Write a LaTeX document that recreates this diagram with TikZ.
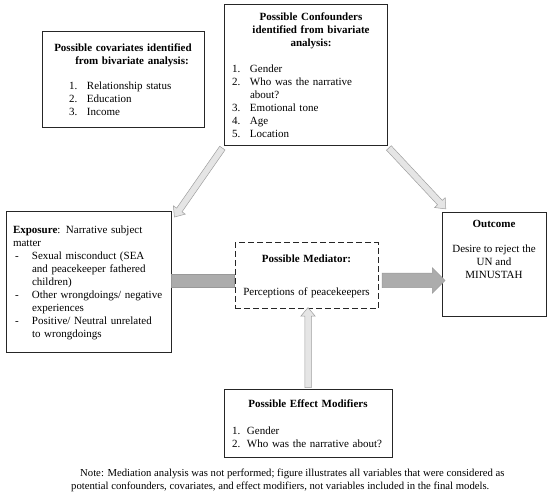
\documentclass[tikz,border=0pt]{standalone}
\usepackage{fontspec}
\setmainfont{Liberation Serif}
\usetikzlibrary{positioning,calc,shapes.arrows}

\newcommand{\itm}[2][18pt]{\makebox[#1][l]{#2}}
\newcommand{\ctr}[1]{\makebox[\linewidth]{#1}}
\newcommand{\blockarrow}[4]{%
  \path let \p1=($(#4)-(#3)$), \n1={atan2(\y1,\x1)}, \n2={veclen(\x1,\y1)} in
    node[#1, rotate=\n1, minimum height=\n2] (#2) at ($(#3)!0.5!(#4)$) {};}

\begin{document}
\begin{tikzpicture}[
  x=1pt, y=-1pt,
  every node/.style = {font=\fontsize{11}{13}\selectfont},
  box/.style = {draw=black!85, line width=1pt, inner ysep=0pt, inner xsep=8pt, align=left},
  txt/.style = {inner sep=0pt, align=center},
  thinarrow/.style = {single arrow, draw=gray!75, fill=gray!20, line width=0.5pt,
    inner sep=3pt, single arrow head extend=4pt, single arrow tip angle=80},
  thickarrow/.style = {single arrow, draw=gray!80, fill=gray!65, line width=0.5pt,
    inner sep=7pt, single arrow head extend=5.5pt},
  bar/.style = {draw=gray!80, fill=gray!65, line width=0.5pt}
    ]
  \useasboundingbox (0,0) rectangle (550,497);

  % boxes
  \node[box, text width=146pt, minimum height=96pt] (covar) at (123,80) {
    \ctr{\textbf{Possible covariates identified}}\\
    \ctr{\hspace*{18pt}\textbf{from bivariate analysis:}}\\[12pt]
    \hspace*{19pt}\itm{1.}Relationship status\\
    \hspace*{19pt}\itm{2.}Education\\
    \hspace*{19pt}\itm{3.}Income\\[4pt]};
  \node[box, text width=147pt, minimum height=141pt] (conf) at (305.5,75.5) {
    \ctr{\hspace*{11pt}\textbf{Possible Confounders}}\\
    \ctr{\hspace*{11pt}\textbf{identified from bivariate}}\\
    \ctr{\hspace*{11pt}\textbf{analysis:}}\\[13pt]
    \itm{1.}Gender\\
    \itm{2.}Who was the narrative\\
    \itm{}about?\\
    \itm{3.}Emotional tone\\
    \itm{4.}Age\\
    \itm{5.}Location};
  \node[box, inner xsep=7pt, text width=151pt, minimum height=141pt] (expo) at (88.5,282.5) {
    \textbf{Exposure}: Narrative subject\\
    matter\\
    \itm[19pt]{\hspace*{2pt}-}Sexual misconduct (SEA\\
    \itm[19pt]{}and peacekeeper fathered\\
    \itm[19pt]{}children)\\
    \itm[19pt]{\hspace*{2pt}-}Other wrongdoings/ negative\\
    \itm[19pt]{}experiences\\
    \itm[19pt]{\hspace*{2pt}-}Positive/ Neutral unrelated\\
    \itm[19pt]{}to wrongdoings};
  \node[box, align=center, dash pattern=on 6pt off 3pt, text width=127pt,
    minimum height=66pt] (medi) at (306.5,276) {
    \textbf{Possible Mediator:}\\[20pt]
    Perceptions of peacekeepers};
  \node[box, minimum width=104pt, minimum height=104pt] (outc) at (494,265) {};
  \node[txt, below=8pt of outc.north] (outctxt) {
    \textbf{Outcome}\\[12pt]
    Desire to reject the\\
    UN and\\
    MINUSTAH};
  \node[box, text width=152pt, minimum height=68pt] (effm) at (308,424) {
    \ctr{\textbf{Possible Effect Modifiers}}\\[14pt]
    \itm[15pt]{1.}Gender\\
    \itm[15pt]{2.}Who was the narrative about?};
  \node[txt, align=left, anchor=west, font=\fontsize{10.7}{13}\selectfont] (note) at (71,480) {
    \hspace*{9pt}Note: Mediation analysis was not performed; figure illustrates all variables that were considered as\\
    potential confounders, covariates, and effect modifiers, not variables included in the final models.};

  % arrows
  \coordinate (mainrow) at (0,280.5);
  \coordinate (barstart) at (expo.east |- mainrow);
  \coordinate (barend) at (medi.west |- mainrow);
  \coordinate (medstart) at (medi.east |- mainrow);
  \coordinate (outend) at (outc.west |- mainrow);
  \coordinate (expotip) at ($(expo.north east)+(4,4)$);
  \coordinate (outctip) at ($(outc.north west)+(3,-5)$);
  \coordinate (meditip) at (effm.north |- medi.south);
  \draw[bar] ($(barstart)+(0,-6.5)$) rectangle ($(barend)+(0,6.5)$);
  \blockarrow{thickarrow}{med-out}{medstart}{outend}
  \blockarrow{thinarrow}{conf-expo}{conf.south west}{expotip}
  \blockarrow{thinarrow}{conf-outc}{conf.south east}{outctip}
  \blockarrow{thinarrow}{effm-medi}{effm.north}{meditip}
\end{tikzpicture}
\end{document}
